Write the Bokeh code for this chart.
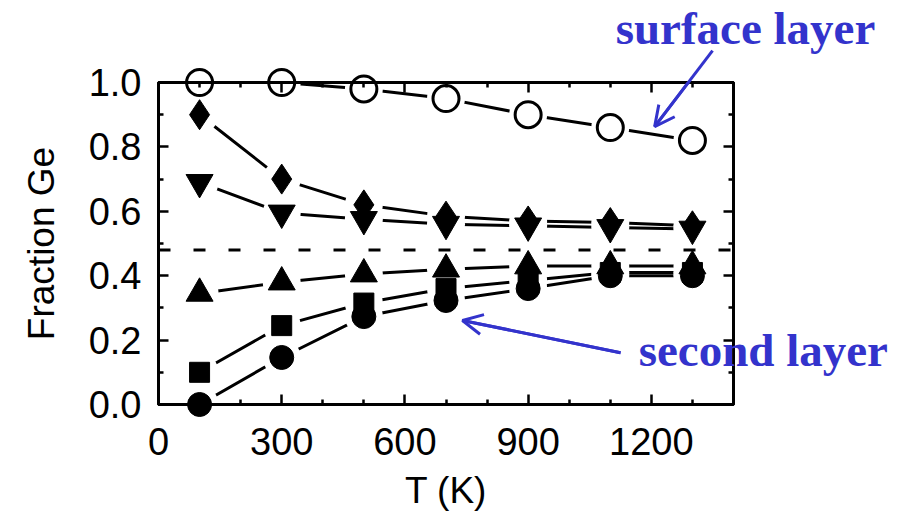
from bokeh.plotting import figure
from bokeh.models import (LinearAxis, FixedTicker, Range1d, Span, Arrow, OpenHead,
                          CustomJSTickFormatter, NumeralTickFormatter)
from bokeh.core.properties import value
from bokeh.embed import file_html
from bokeh.resources import INLINE

# ---------------- data ----------------
temps = [100, 300, 500, 700, 900, 1100, 1300]
surface_open = [1.0, 1.0, 0.98, 0.95, 0.90, 0.86, 0.82]
diamond_vals = [0.90, 0.70, 0.62, 0.585, 0.57, 0.565, 0.555]
tri_down_vals = [0.69, 0.595, 0.575, 0.56, 0.555, 0.55, 0.545]
tri_up_vals = [0.345, 0.38, 0.405, 0.42, 0.43, 0.43, 0.43]
square_vals = [0.10, 0.245, 0.315, 0.36, 0.385, 0.41, 0.41]
second_circ = [0.0, 0.146, 0.273, 0.323, 0.36, 0.40, 0.40]
reference_level = 0.48

x_major = [0, 300, 600, 900, 1200]
x_minor = [100, 200, 400, 500, 700, 800, 1000, 1100, 1300, 1400]
y_major = [0.0, 0.2, 0.4, 0.6, 0.8, 1.0]
y_minor = [0.1, 0.3, 0.5, 0.7, 0.9]

x_label = "T (K)"
y_label = "Fraction Ge"
note_texts = ["surface layer", "second layer"]
note_x = [1113, 1169]
note_y = [1.168, 0.168]
arrow_x0 = [1349, 1125]
arrow_y0 = [1.099, 0.161]
arrow_x1 = [1208, 740]
arrow_y1 = [0.863, 0.261]

BLUE = "#3333cc"
LABEL_FONT = "Liberation Sans"

p = figure(frame_width=575, frame_height=322,
           min_border_left=158, min_border_right=178,
           min_border_top=82, min_border_bottom=112,
           x_range=Range1d(0, 1400), y_range=Range1d(0, 1.0),
           output_backend="svg", toolbar_location=None,
           background_fill_color="white", border_fill_color="white")
p.xgrid.grid_line_color = None
p.ygrid.grid_line_color = None
p.outline_line_color = "black"
p.outline_line_width = 3

p.add_layout(LinearAxis(), "right")
p.add_layout(LinearAxis(), "above")

blank = CustomJSTickFormatter(code="return ''")
for ax in p.xaxis:
    ax.ticker = FixedTicker(ticks=x_major, minor_ticks=x_minor)
for ax in p.yaxis:
    ax.ticker = FixedTicker(ticks=y_major, minor_ticks=y_minor)
for ax in list(p.xaxis) + list(p.yaxis):
    ax.axis_line_color = "black"
    ax.axis_line_width = 3
    ax.major_tick_line_width = 2.5
    ax.minor_tick_line_width = 2.5
    ax.major_tick_in = 10
    ax.major_tick_out = 0
    ax.minor_tick_in = 5
    ax.minor_tick_out = 0
    ax.major_label_text_font = LABEL_FONT
    ax.major_label_text_font_size = "38px"
    ax.major_label_text_color = "black"

p.left[0].formatter = NumeralTickFormatter(format="0.0")
p.below[0].major_label_standoff = 23
p.below[0].axis_label = x_label
p.below[0].axis_label_standoff = 12
p.left[0].major_label_standoff = 17
p.left[0].axis_label = y_label
p.left[0].axis_label_standoff = 24
for ax in (p.below[0], p.left[0]):
    ax.axis_label_text_font = LABEL_FONT
    ax.axis_label_text_font_size = "37px"
    ax.axis_label_text_font_style = "normal"
    ax.axis_label_text_color = "black"
for ax in (p.above[0], p.right[0]):
    ax.formatter = blank
    ax.major_label_standoff = 0

# ---------------- series ----------------
series = [
    (surface_open, "circle", 26, None),
    (diamond_vals, "diamond", 30, "black"),
    (tri_down_vals, "inverted_triangle", 27, "black"),
    (tri_up_vals, "triangle", 27, "black"),
    (square_vals, "square", 20, "black"),
    (second_circ, "circle", 24, "black"),
]

for vals, _, _, _ in series:
    p.line(temps, vals, line_color="black", line_width=3)
for vals, _, _, _ in series:
    p.scatter(temps, vals, marker="circle", size=38, fill_color="white", line_color=None)
for vals, mk, sz, fill in series:
    p.scatter(temps, vals, marker=mk, size=sz, fill_color=fill,
              line_color="black", line_width=3 if fill is None else 1,
              level="overlay")

p.add_layout(Span(location=reference_level, dimension="width", line_color="black",
                  line_width=3, line_dash="12 23"))

# ---------------- annotations ----------------
p.segment(x0=arrow_x0, y0=arrow_y0, x1=arrow_x1, y1=arrow_y1,
          line_color=BLUE, line_width=3, level="overlay")
for i in range(len(arrow_x0)):
    p.add_layout(Arrow(end=OpenHead(size=20, line_color=BLUE, line_width=3),
                       x_start=arrow_x0[i], y_start=arrow_y0[i],
                       x_end=arrow_x1[i], y_end=arrow_y1[i],
                       line_color=BLUE, line_width=3))

p.text(x=note_x, y=note_y, text=note_texts, text_font=value("Liberation Serif"),
       text_font_size="47px", text_font_style="bold", text_color=BLUE,
       text_baseline="alphabetic", text_align="left", level="overlay")

open("out.html", "w").write(file_html(p, INLINE))
